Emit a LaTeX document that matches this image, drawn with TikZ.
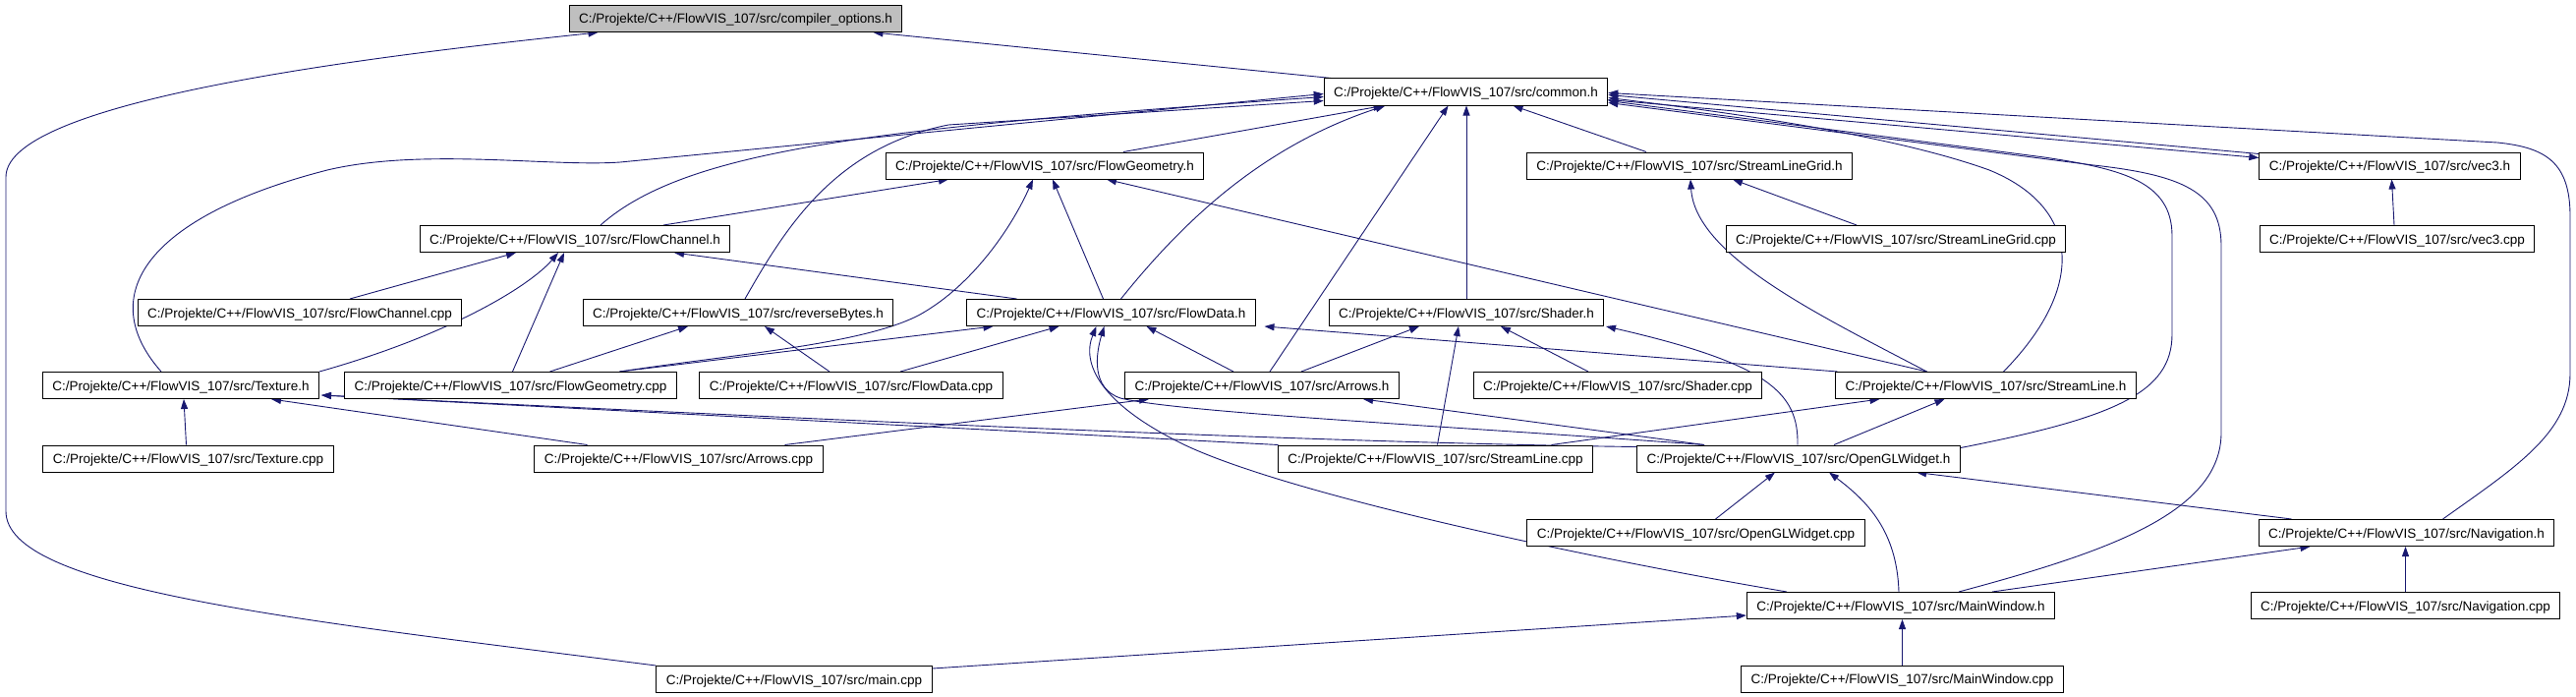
\documentclass[tikz,border=0pt]{standalone}
\usepackage{fontspec}
\setmainfont{Liberation Sans}
\usetikzlibrary{arrows.meta,calc,backgrounds}
\definecolor{edgeblue}{HTML}{191970}
\definecolor{rootgray}{HTML}{BFBFBF}

\begin{document}
\begin{tikzpicture}[x=1pt,y=-1pt,
    file/.style={draw=black,line width=1pt,fill=white,minimum height=27pt,
      inner xsep=10pt,inner ysep=0pt,text height=10pt,text depth=0pt,
      font=\fontsize{13.5}{16}\selectfont},
    root/.style={file,fill=rootgray},
    dep/.style={draw=edgeblue,line width=0.9pt,-{Triangle[length=10pt,width=7pt]}}]
        \useasboundingbox (0,0) rectangle (2621,709);

        \node[root] (compopt) at (748.5,19) {C:/Projekte/C++/FlowVIS\_107/src/compiler\_options.h};
        \node[file] (common) at (1491.5,93.5) {C:/Projekte/C++/FlowVIS\_107/src/common.h};
        \node[file] (flowgeomh) at (1063,168.5) {C:/Projekte/C++/FlowVIS\_107/src/FlowGeometry.h};
        \node[file] (slgridh) at (1719,168.5) {C:/Projekte/C++/FlowVIS\_107/src/StreamLineGrid.h};
        \node[file] (vec3h) at (2431.5,168.5) {C:/Projekte/C++/FlowVIS\_107/src/vec3.h};
        \node[file] (flowchanh) at (585,243) {C:/Projekte/C++/FlowVIS\_107/src/FlowChannel.h};
        \node[file] (slgridcpp) at (1929,243) {C:/Projekte/C++/FlowVIS\_107/src/StreamLineGrid.cpp};
        \node[file] (vec3cpp) at (2439,243) {C:/Projekte/C++/FlowVIS\_107/src/vec3.cpp};
        \node[file] (flowchancpp) at (305,318) {C:/Projekte/C++/FlowVIS\_107/src/FlowChannel.cpp};
        \node[file] (revbytesh) at (751,318) {C:/Projekte/C++/FlowVIS\_107/src/reverseBytes.h};
        \node[file] (flowdatah) at (1130.5,318) {C:/Projekte/C++/FlowVIS\_107/src/FlowData.h};
        \node[file] (shaderh) at (1492,318) {C:/Projekte/C++/FlowVIS\_107/src/Shader.h};
        \node[file] (textureh) at (184,392) {C:/Projekte/C++/FlowVIS\_107/src/Texture.h};
        \node[file] (flowgeomcpp) at (519.5,392) {C:/Projekte/C++/FlowVIS\_107/src/FlowGeometry.cpp};
        \node[file] (flowdatacpp) at (866,392) {C:/Projekte/C++/FlowVIS\_107/src/FlowData.cpp};
        \node[file] (arrowsh) at (1284,392) {C:/Projekte/C++/FlowVIS\_107/src/Arrows.h};
        \node[file] (shadercpp) at (1646,392) {C:/Projekte/C++/FlowVIS\_107/src/Shader.cpp};
        \node[file] (streamlineh) at (2020.5,392) {C:/Projekte/C++/FlowVIS\_107/src/StreamLine.h};
        \node[file] (texturecpp) at (191.5,466.5) {C:/Projekte/C++/FlowVIS\_107/src/Texture.cpp};
        \node[file] (arrowscpp) at (690.5,466.5) {C:/Projekte/C++/FlowVIS\_107/src/Arrows.cpp};
        \node[file] (streamlinecpp) at (1460.5,466.5) {C:/Projekte/C++/FlowVIS\_107/src/StreamLine.cpp};
        \node[file] (openglh) at (1830,466.5) {C:/Projekte/C++/FlowVIS\_107/src/OpenGLWidget.h};
        \node[file] (openglcpp) at (1725.5,542) {C:/Projekte/C++/FlowVIS\_107/src/OpenGLWidget.cpp};
        \node[file] (navh) at (2448.5,542) {C:/Projekte/C++/FlowVIS\_107/src/Navigation.h};
        \node[file] (mainwinh) at (1934,616) {C:/Projekte/C++/FlowVIS\_107/src/MainWindow.h};
        \node[file] (navcpp) at (2447.5,616) {C:/Projekte/C++/FlowVIS\_107/src/Navigation.cpp};
        \node[file] (maincpp) at (808,691) {C:/Projekte/C++/FlowVIS\_107/src/main.cpp};
        \node[file] (mainwincpp) at (1935.5,690.5) {C:/Projekte/C++/FlowVIS\_107/src/MainWindow.cpp};

        \begin{scope}[on background layer]
        \draw[dep] ($(common.north west)+(8,0)$) -- ($(compopt.south)+(140,0)$);
        \draw[dep] (maincpp.north west) .. controls (300,630) and (6,600) .. (6,520) -- (6,180) .. controls (6,100) and (400,55) .. ($(compopt.south)+(-140,0)$);

        \draw[dep] ($(flowchanh.north)+(26,0)$) .. controls (700,150) and (900,130) .. ($(common.west)+(0,5)$);
        \draw[dep] ($(textureh.north)+(-20,0)$) .. controls (95,300) and (150,220) .. (333,173) .. controls (430,150) and (560,170) .. (631,165) -- ($(common.west)+(0,2)$);
        \draw[dep] ($(revbytesh.north)+(7,0)$) .. controls (800,230) and (850,150) .. (965,127) -- ($(common.west)+(0,9)$);
        \draw[dep] ($(flowgeomh.north)+(80,0)$) -- ($(common.south)+(-84,0)$);
        \draw[dep] ($(flowdatah.north)+(10,0)$) .. controls (1200,230) and (1280,150) .. ($(common.south)+(-82,0)$);
        \draw[dep] ($(arrowsh.north)+(8,0)$) -- ($(common.south)+(-18,0)$);
        \draw[dep] (shaderh.north) -- (shaderh.north |- common.south);
        \draw[dep] ($(slgridh.north)+(-44,0)$) -- ($(common.south)+(48,0)$);
        \draw[dep] ($(vec3h.west)+(0,-12)$) -- ($(common.east)+(0,3)$);
        \draw[dep] ($(common.east)+(0,8)$) -- ($(vec3h.west)+(0,-8)$);
        \draw[dep] ($(streamlineh.north)+(18,0)$) .. controls (2125,290) and (2115,210) .. (2024,173) .. controls (1960,150) and (1850,125) .. ($(common.east)+(0,6)$);
        \draw[dep] ($(openglh.north east)+(0,3)$) .. controls (2150,425) and (2210,400) .. (2210,340) -- (2210,240) .. controls (2210,185) and (2160,172) .. (2080,160) -- ($(common.east)+(0,9)$);
        \draw[dep] ($(mainwinh.north)+(59,0)$) .. controls (2150,560) and (2260,520) .. (2260,440) -- (2260,250) .. controls (2260,195) and (2220,178) .. (2130,168) -- ($(common.east)+(0,11)$);
        \draw[dep] ($(navh.north)+(37,0)$) .. controls (2560,475) and (2615,440) .. (2615,380) -- (2615,220) .. controls (2615,165) and (2590,150) .. (2541,145) -- ($(common.east)+(0,1)$);

        \draw[dep] ($(flowchanh.north)+(90,0)$) -- ($(flowgeomh.south)+(-98,0)$);
        \draw[dep] ($(flowgeomcpp.north)+(111,0)$) .. controls (750,360) and (880,350) .. (936,320) .. controls (990,290) and (1030,230) .. ($(flowgeomh.south)+(-12,0)$);
        \draw[dep] ($(flowdatah.north)+(-8,0)$) -- ($(flowgeomh.south)+(8,0)$);
        \draw[dep] ($(streamlineh.north)+(-60,0)$) -- ($(flowgeomh.south)+(63,0)$);

        \draw[dep] ($(flowchancpp.north)+(51,0)$) -- ($(flowchanh.south)+(-60,0)$);
        \draw[dep] (textureh.north east) .. controls (460,340) and (540,290) .. ($(flowchanh.south)+(-17,0)$);
        \draw[dep] ($(flowgeomcpp.north)+(2,0)$) -- ($(flowchanh.south)+(-11,0)$);
        \draw[dep] ($(flowdatah.north)+(-96,0)$) -- ($(flowchanh.south)+(101,0)$);

        \draw[dep] ($(flowgeomcpp.north)+(40,0)$) -- ($(revbytesh.south)+(-51,0)$);
        \draw[dep] ($(flowdatacpp.north)+(-22,0)$) -- ($(revbytesh.south)+(27,0)$);

        \draw[dep] ($(flowgeomcpp.north)+(111,0)$) -- ($(flowdatah.south)+(-120,0)$);
        \draw[dep] ($(flowdatacpp.north)+(50,0)$) -- ($(flowdatah.south)+(-53,0)$);
        \draw[dep] ($(arrowsh.north)+(-29,0)$) -- ($(flowdatah.south)+(36,0)$);
        \draw[dep] ($(streamlineh.north)+(-151,0)$) -- ($(flowdatah.south)+(156,0)$);
        \draw[dep] ($(openglh.north)+(-96,0)$) .. controls (1500,435) and (1200,420) .. (1140,405) .. controls (1110,395) and (1115,360) .. ($(flowdatah.south)+(-7,0)$);
        \draw[dep] ($(mainwinh.north)+(-116,0)$) .. controls (1600,565) and (1300,500) .. (1200,450) .. controls (1120,410) and (1100,370) .. ($(flowdatah.south)+(-15,0)$);

        \draw[dep] ($(arrowsh.north)+(40,0)$) -- ($(shaderh.south)+(-48,0)$);
        \draw[dep] ($(streamlinecpp.north)+(2,0)$) -- ($(shaderh.south)+(-8,0)$);
        \draw[dep] ($(shadercpp.north)+(-30,0)$) -- ($(shaderh.south)+(35,0)$);
        \draw[dep] ($(openglh.north)+(-1,0)$) .. controls (1830,400) and (1800,370) .. ($(shaderh.south)+(142,0)$);

        \draw[dep] ($(slgridcpp.north)+(-40,0)$) -- ($(slgridh.south)+(44,0)$);
        \draw[dep] ($(streamlineh.north)+(-60,0)$) .. controls (1850,320) and (1725,260) .. ($(slgridh.south)+(1,0)$);
        \draw[dep] ($(vec3cpp.north)+(-3,0)$) -- ($(vec3h.south)+(2,0)$);

        \draw[dep] ($(texturecpp.north)+(-2,0)$) -- ($(textureh.south)+(3,0)$);
        \draw[dep] ($(arrowscpp.north)+(-93,0)$) -- ($(textureh.south)+(92,0)$);
        \draw[dep] ($(streamlinecpp.north)+(-160,0)$) -- ($(textureh.east)+(2,10)$);
        \draw[dep] ($(openglh.north)+(-165,2)$) .. controls (1300,450) and (700,420) .. ($(textureh.east)+(2,10)$);

        \draw[dep] ($(arrowscpp.north)+(108,0)$) -- ($(arrowsh.south)+(-115,0)$);
        \draw[dep] ($(openglh.north)+(-96,0)$) -- ($(arrowsh.south)+(103,0)$);
        \draw[dep] ($(streamlinecpp.north)+(118,0)$) -- ($(streamlineh.south)+(-108,0)$);
        \draw[dep] ($(openglh.north)+(36,0)$) -- ($(streamlineh.south)+(-42,0)$);

        \draw[dep] ($(openglcpp.north)+(20,0)$) -- ($(openglh.south)+(-24,0)$);
        \draw[dep] ($(mainwinh.north)+(-2,0)$) .. controls (1930,540) and (1900,510) .. ($(openglh.south)+(31,0)$);
        \draw[dep] ($(navh.north)+(-117,0)$) -- ($(openglh.south)+(120,0)$);
        \draw[dep] ($(mainwinh.north)+(93,0)$) -- ($(navh.south)+(-98,0)$);
        \draw[dep] (navcpp.north) -- (navcpp.north |- navh.south);
        \draw[dep] (mainwincpp.north) -- (mainwincpp.north |- mainwinh.south);
        \draw[dep] ($(maincpp.north east)+(0,3)$) -- ($(mainwinh.west)+(0,10)$);
        \end{scope}
    \end{tikzpicture}
\end{document}
